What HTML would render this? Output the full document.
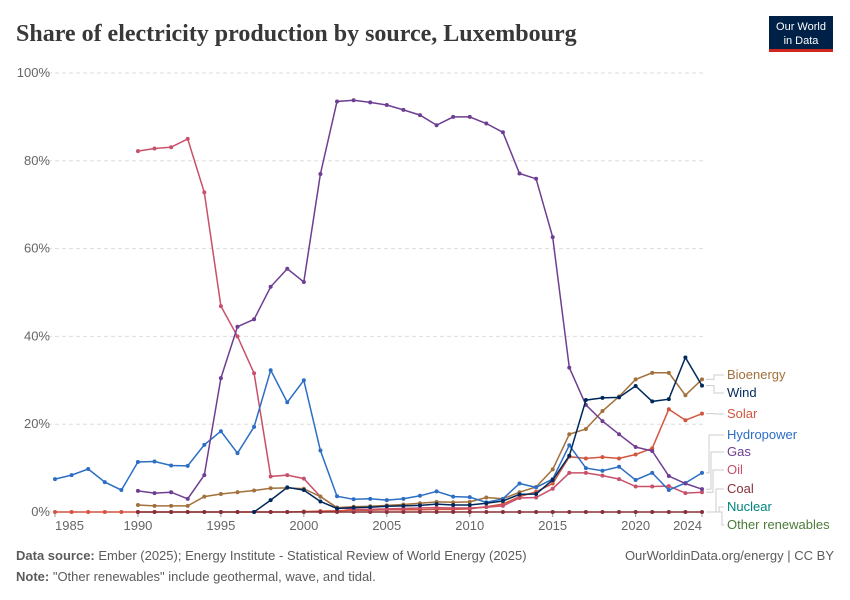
<!DOCTYPE html>
<html><head><meta charset="utf-8">
<style>
body{margin:0;background:#fff;font-family:"Liberation Sans",sans-serif;}
#wrap{position:relative;width:850px;height:600px;overflow:hidden;}
</style></head>
<body>
<div id="wrap">
<svg id="chart" width="850" height="600" xmlns="http://www.w3.org/2000/svg">
<text x="16" y="41" font-family="Liberation Serif, serif" font-size="24" font-weight="bold" fill="#383838">Share of electricity production by source, Luxembourg</text>
<g>
<rect x="769" y="16" width="64" height="33" fill="#002147"/>
<rect x="769" y="49" width="64" height="3" fill="#ce261e"/>
<text x="801" y="30" text-anchor="middle" font-size="11" fill="#fff">Our World</text>
<text x="801" y="44" text-anchor="middle" font-size="11" fill="#fff">in Data</text>
</g>
<g id="grid"></g>
<g id="series"></g>
<g id="legend"></g>
<text x="16" y="560" font-size="13" fill="#5b5b5b"><tspan font-weight="bold">Data source:</tspan> Ember (2025); Energy Institute - Statistical Review of World Energy (2025)</text>
<text x="834" y="560" text-anchor="end" font-size="13" fill="#5b5b5b">OurWorldinData.org/energy | CC BY</text>
<text x="16" y="581" font-size="13" fill="#5b5b5b"><tspan font-weight="bold">Note:</tspan> "Other renewables" include geothermal, wave, and tidal.</text>
</svg>
</div>
<script>
const yTicks = [0,20,40,60,80,100];
const xTicks = [1985,1990,1995,2000,2005,2010,2015,2020,2024];
const hydroStart = 1985;
const hydro = [7.5,8.4,9.8,6.8,5.0,11.4,11.5,10.6,10.5,15.3,18.4,13.4,19.4,32.3,25,30,14,3.6,2.9,3.0,2.7,3.0,3.7,4.7,3.5,3.4,2.2,3.0,6.5,5.6,7.5,15.2,10,9.4,10.3,7.3,8.9,5.0,6.6,8.9];
const gasStart = 1990;
const gas = [4.8,4.3,4.5,3.0,8.4,30.5,42.2,43.9,51.3,55.4,52.4,77,93.5,93.8,93.3,92.7,91.6,90.4,88.1,90,90,88.5,86.5,77.1,75.9,62.6,32.9,24.4,20.7,17.7,14.8,13.9,8.2,6.5,5.2];
const oilStart = 1990;
const oil = [82.2,82.8,83.1,85,72.8,46.9,40,31.6,8.1,8.4,7.6,3.5,1.0,0.6,0.6,0.7,0.8,0.9,1.0,0.9,0.9,1.1,1.4,3.2,3.3,5.3,8.9,8.9,8.3,7.5,5.8,5.8,5.9,4.3,4.5];
const solarStart = 1985;
const solar = [0,0,0,0,0,0,0,0,0,0,0,0,0,0,0,0.1,0.2,0.3,0.4,0.4,0.5,0.5,0.5,0.6,0.6,0.7,1.2,1.8,3.5,4.6,6.5,12.6,12.2,12.5,12.2,13.1,14.5,23.4,20.9,22.4];
const bioStart = 1990;
const bio = [1.6,1.4,1.4,1.4,3.5,4.1,4.5,4.9,5.4,5.5,5.3,3.5,1.0,1.2,1.3,1.5,1.7,2.0,2.3,2.2,2.3,3.3,3.0,4.5,5.7,9.7,17.7,18.9,23,26.3,30.2,31.7,31.7,26.6,30.2];
const windStart = 1997;
const wind = [0,2.7,5.6,5.0,2.4,0.8,1.0,1.1,1.3,1.4,1.5,1.8,1.6,1.6,2.0,2.5,4.0,4.1,7.3,12.8,25.5,26,26.1,28.7,25.2,25.7,35.2,28.8];
const coalStart = 1990;
const coal = [0,0,0,0,0,0,0,0,0,0,0,0,0,0,0,0,0,0,0,0,0,0,0,0,0,0,0,0,0,0,0,0,0,0,0];

const X0=55, X1=702, Y0=512, Y1=73;
function x(yr){return X0+(yr-1985)*(X1-X0)/(2024-1985);}
function y(v){return Y0-(v/100)*(Y0-Y1);}
const NS="http://www.w3.org/2000/svg";
function mk(tag,attrs,parent){const e=document.createElementNS(NS,tag);for(const k in attrs)e.setAttribute(k,attrs[k]);parent.appendChild(e);return e;}
const grid=document.getElementById('grid');
yTicks.forEach(t=>{
  const l=mk('line',{x1:34,x2:705,y1:y(t),y2:y(t),stroke:'#ddd','stroke-dasharray':'4,3'},grid);
  
  
  const tx=mk('text',{x:50,y:y(t)+4,'text-anchor':'end','font-size':13,fill:'#666'},grid);
  tx.textContent=t+'%';
  
  
});
xTicks.forEach((t,i)=>{
  const anchor = i===0?'start':(i===xTicks.length-1?'end':'middle');
  const px = i===0?X0:(i===xTicks.length-1?X1:x(t));
  const tk=mk('line',{x1:x(t),x2:x(t),y1:Y0,y2:Y0+5,stroke:'#999'},grid);
  
  
  const tx=mk('text',{x:px,y:Y0+18,'text-anchor':anchor,'font-size':13,fill:'#666'},grid);
  tx.textContent=t;
  
  
});
const seriesG=document.getElementById('series');
function draw(name,start,vals,color){
  const g=mk('g',{},seriesG);
  
  
  const pts=vals.map((v,i)=>x(start+i).toFixed(1)+','+y(v).toFixed(1)).join(' ');
  const pl=mk('polyline',{points:pts,fill:'none',stroke:color,'stroke-width':1.5},g);
  
  
  vals.forEach((v,i)=>{
    const c=mk('circle',{cx:x(start+i),cy:y(v),r:2,fill:color},g);
    
    
  });
}
draw('solar',solarStart,solar,'#d2553f');
draw('coal',coalStart,coal,'#883039');
draw('oil',oilStart,oil,'#c8506a');
draw('bioenergy',bioStart,bio,'#a2703b');
draw('hydropower',hydroStart,hydro,'#2c6ec4');
draw('gas',gasStart,gas,'#6d3e91');
draw('wind',windStart,wind,'#00295b');

const legend=document.getElementById('legend');
const legNames=['Bioenergy','Wind','Solar','Hydropower','Gas','Oil','Coal','Nuclear','Other renewables'];
const legColors=['#a2703b','#00295b','#d2553f','#2c6ec4','#6d3e91','#c8506a','#883039','#00847e','#4c7a3a'];
const legY=[379,397,418,439,456,474,493,511,529];
const endY=[y(bio[bio.length-1]),y(wind[wind.length-1]),y(solar[solar.length-1]),y(hydro[hydro.length-1]),y(gas[gas.length-1]),y(oil[oil.length-1]),y(0),y(0),y(0)];
const elbowX=[714,714,714,709,711,713,716,719,722];
legNames.forEach((n,i)=>{
  const p=mk('polyline',{points:`${706},${endY[i]} ${elbowX[i]},${endY[i]} ${elbowX[i]},${legY[i]-4} ${724},${legY[i]-4}`,fill:'none',stroke:'#ccc','stroke-width':1},legend);
  
  
  const t=mk('text',{x:727,y:legY[i],'font-size':13,fill:legColors[i]},legend);
  t.textContent=n;
  
  
});
</script>
</body></html>
